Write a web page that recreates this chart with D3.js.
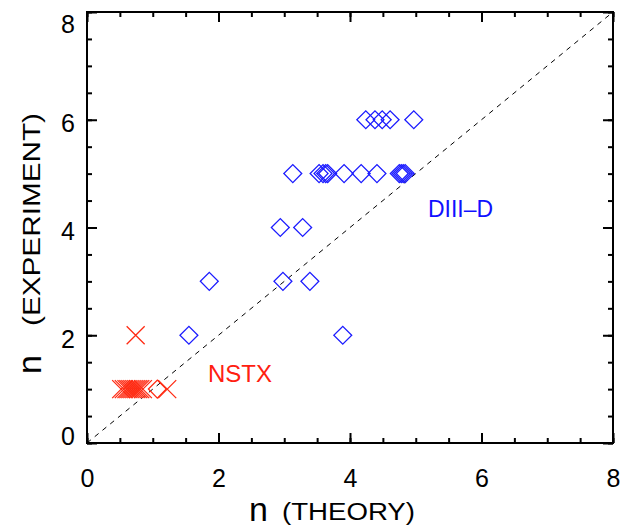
<!DOCTYPE html>
<html>
<head>
<meta charset="utf-8">
<script src="https://cdn.jsdelivr.net/npm/d3@7"></script>
<style>
  body { margin: 0; background: #fff; }
  text { font-family: "Liberation Sans", Arial, sans-serif; }
</style>
</head>
<body>
<div id="chart"></div>
<script>
// total size of SVG
let intTotalWid = 623;
let intTotalHgt = 527;

// data: DIII-D (diamonds)
let arrDiiidTheory = [1.55, 3.89,
  1.86, 2.98, 3.39,
  2.94, 3.28,
  3.13, 3.53, 3.59, 3.63, 3.66, 3.91, 4.17, 4.41, 4.75, 4.78, 4.81, 4.84,
  4.24, 4.38, 4.49, 4.61, 4.97];
let arrDiiidExp = [2, 2,
  3, 3, 3,
  4, 4,
  5, 5, 5, 5, 5, 5, 5, 5, 5, 5, 5, 5,
  6, 6, 6, 6, 6];

// data: NSTX (crosses)
let arrNstxTheory = [0.74, 0.52, 0.56, 0.6, 0.63, 0.66, 0.69, 0.72, 0.75, 0.78, 0.81, 0.85, 1.22];
let arrNstxExp = [2, 1, 1, 1, 1, 1, 1, 1, 1, 1, 1, 1, 1];

// odd NSTX diamond
let arrNstxDiaTheory = [1.07];
let arrNstxDiaExp = [1];

// axis ticks
let arrMajor = [0, 2, 4, 6, 8];
let arrMinor = d3.range(0, 8.01, 0.5);

let objMargin = { top: 12, right: 10, bottom: 84, left: 87 };
let intActiveWid = 613 - objMargin.left;
let intActiveHgt = 443 - objMargin.top;

let svg = d3.select("#chart")
  .append("svg")
  .attr("width", intTotalWid)
  .attr("height", intTotalHgt);

let g = svg.append("g")
  .attr("transform", `translate(${objMargin.left}, ${objMargin.top})`);

let fnX = d3.scaleLinear().domain([0, 8]).range([0, intActiveWid]);
let fnY = d3.scaleLinear().domain([0, 8]).range([intActiveHgt, 0]);

// minor ticks on all four sides (inward)
g.append("g").attr("class", "ax").attr("transform", `translate(0, ${intActiveHgt})`)
  .call(d3.axisBottom(fnX).tickValues(arrMinor).tickSize(-5).tickFormat(""));
g.append("g").attr("class", "ax")
  .call(d3.axisTop(fnX).tickValues(arrMinor).tickSize(-5).tickFormat(""));
g.append("g").attr("class", "ax")
  .call(d3.axisLeft(fnY).tickValues(arrMinor).tickSize(-5).tickFormat(""));
g.append("g").attr("class", "ax").attr("transform", `translate(${intActiveWid}, 0)`)
  .call(d3.axisRight(fnY).tickValues(arrMinor).tickSize(-5).tickFormat(""));

// major ticks
let gXB = g.append("g").attr("class", "ax").attr("transform", `translate(0, ${intActiveHgt})`)
  .call(d3.axisBottom(fnX).tickValues(arrMajor).tickSize(-10).tickPadding(0).tickFormat(d3.format("d")));
g.append("g").attr("class", "ax")
  .call(d3.axisTop(fnX).tickValues(arrMajor).tickSize(-10).tickFormat(""));
let gYL = g.append("g").attr("class", "ax")
  .call(d3.axisLeft(fnY).tickValues(arrMajor).tickSize(-10).tickPadding(12).tickFormat(d3.format("d")));
g.append("g").attr("class", "ax").attr("transform", `translate(${intActiveWid}, 0)`)
  .call(d3.axisRight(fnY).tickValues(arrMajor).tickSize(-10).tickFormat(""));

g.selectAll(".ax .domain").remove();
g.selectAll(".ax line").attr("stroke", "#000").attr("stroke-width", 2);

gXB.selectAll("text")
  .attr("y", 44).attr("dy", 0)
  .attr("font-size", 25).attr("fill", "#000");
gYL.selectAll("text")
  .attr("dy", 0)
  .attr("y", d => Math.min(Math.max(fnY(d) + 12, 20), 432) - fnY(d))
  .attr("font-size", 25).attr("fill", "#000");

// frame
g.append("rect")
  .attr("width", intActiveWid).attr("height", intActiveHgt)
  .attr("fill", "none").attr("stroke", "#000").attr("stroke-width", 2);

// diagonal x=y
g.append("line")
  .attr("x1", fnX(0)).attr("y1", fnY(0))
  .attr("x2", fnX(8)).attr("y2", fnY(8))
  .attr("stroke", "#000").attr("stroke-width", 1)
  .attr("stroke-dasharray", "5,5");

// DIII-D diamonds
let strDia = d3.symbol(d3.symbolSquare, 160)();
g.selectAll(".dia")
  .data(arrDiiidTheory)
  .enter()
  .append("path")
  .attr("class", "dia")
  .attr("d", strDia)
  .attr("transform", (d, i) => `translate(${fnX(d)}, ${fnY(arrDiiidExp[i])}) rotate(45)`)
  .attr("fill", "none")
  .attr("stroke", "#1c1cff")
  .attr("stroke-width", 1.3);

g.selectAll(".ndia")
  .data(arrNstxDiaTheory)
  .enter()
  .append("path")
  .attr("class", "ndia")
  .attr("d", strDia)
  .attr("transform", (d, i) => `translate(${fnX(d)}, ${fnY(arrNstxDiaExp[i])}) rotate(45)`)
  .attr("fill", "none")
  .attr("stroke", "#ff2a12")
  .attr("stroke-width", 1.3);

// NSTX crosses
g.selectAll(".crs")
  .data(arrNstxTheory)
  .enter()
  .append("path")
  .attr("class", "crs")
  .attr("d", "M-9,-9L9,9M-9,9L9,-9")
  .attr("transform", (d, i) => `translate(${fnX(d)}, ${fnY(arrNstxExp[i])})`)
  .attr("fill", "none")
  .attr("stroke", "#ff2a12")
  .attr("stroke-width", 1.3);

// labels
g.append("text")
  .attr("x", 428 - objMargin.left).attr("y", 217 - objMargin.top)
  .attr("font-size", 23).attr("fill", "#1010ff")
  .attr("textLength", 65).attr("lengthAdjust", "spacingAndGlyphs")
  .text("DIII–D");
g.append("text")
  .attr("x", 208 - objMargin.left).attr("y", 382 - objMargin.top)
  .attr("font-size", 24).attr("fill", "#ff2010")
  .text("NSTX");

// axis titles (wide lettering, as in the original)
svg.append("text")
  .attr("x", 249).attr("y", 521)
  .attr("font-size", 34).attr("fill", "#000")
  .text("n");
svg.append("text")
  .attr("x", 282).attr("y", 520)
  .attr("font-size", 23).attr("fill", "#000")
  .attr("textLength", 133).attr("lengthAdjust", "spacingAndGlyphs")
  .text("(THEORY)");

let gYT = svg.append("g")
  .attr("transform", "translate(41, 374) rotate(-90)");
gYT.append("text")
  .attr("x", 0).attr("y", 0)
  .attr("font-size", 34).attr("fill", "#000")
  .text("n");
gYT.append("text")
  .attr("x", 48).attr("y", -1)
  .attr("font-size", 23).attr("fill", "#000")
  .attr("textLength", 213).attr("lengthAdjust", "spacingAndGlyphs")
  .text("(EXPERIMENT)");
</script>
</body>
</html>
